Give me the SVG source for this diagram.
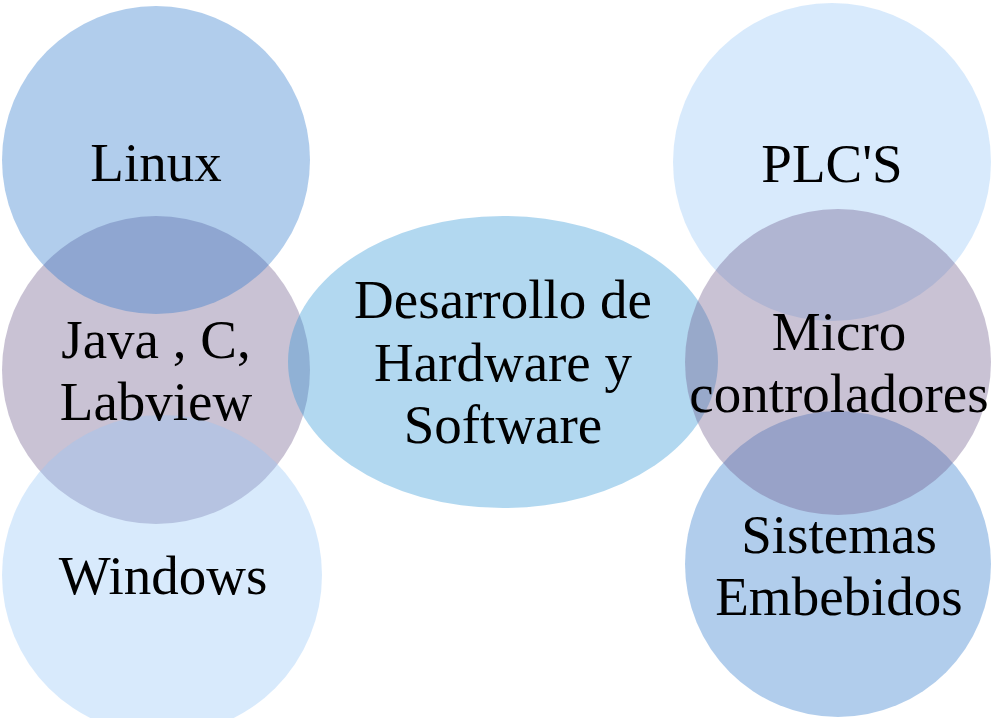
<svg xmlns="http://www.w3.org/2000/svg" width="994" height="718" viewBox="0 0 994 718">
<style>
.c{fill-opacity:0.37;stroke:none}
.t{font-family:"Liberation Serif","Times New Roman",serif;font-size:55px;fill:#000;text-anchor:middle}
</style>
<rect width="994" height="718" fill="#fff"/>
<g id="java">
<circle class="c" cx="156" cy="370" r="154" fill="#6d5a8b"/>
</g>
<g id="linux">
<circle class="c" cx="156" cy="160" r="154" fill="#2c78cc"/>
</g>
<g id="windows">
<circle class="c" cx="162" cy="575" r="160" fill="#96c6f7"/>
</g>
<g id="center">
<ellipse class="c" cx="503" cy="362" rx="215" ry="146" fill="#2f96d6"/>
</g>
<g id="plcs">
<circle class="c" cx="832" cy="162" r="159" fill="#96c6f7"/>
</g>
<g id="sistemas">
<circle class="c" cx="838" cy="564" r="153" fill="#2c78cc"/>
</g>
<g id="micro">
<circle class="c" cx="838" cy="362" r="153" fill="#6d5a8b"/>
</g>
<g id="labels">
<text class="t" x="156" y="181">Linux</text>
<text class="t" x="156" y="358">Java , C,</text>
<text class="t" x="156" y="420">Labview</text>
<text class="t" x="163" y="594">Windows</text>
<text class="t" x="503" y="318">Desarrollo de</text>
<text class="t" x="503" y="381">Hardware y</text>
<text class="t" x="503" y="443">Software</text>
<text class="t" x="832" y="182">PLC'S</text>
<text class="t" x="839" y="350">Micro</text>
<text class="t" x="839" y="412">controladores</text>
<text class="t" x="839" y="553">Sistemas</text>
<text class="t" x="839" y="615">Embebidos</text>
</g>
<g id="connectors"></g>
</svg>
